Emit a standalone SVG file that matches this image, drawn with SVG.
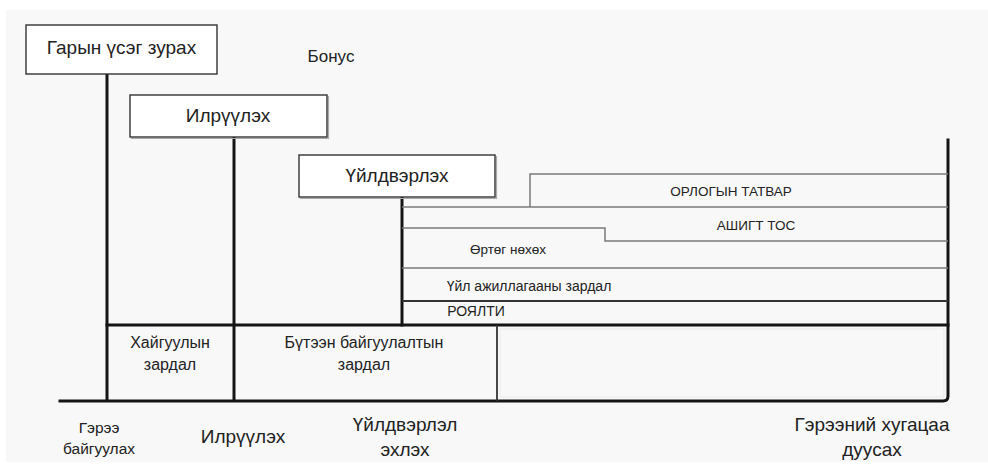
<svg xmlns="http://www.w3.org/2000/svg" width="988" height="464" viewBox="0 0 988 464">
  <style>
    .t { font-family: "Liberation Sans", Arial, sans-serif; fill: #222; text-anchor: middle; }
    .box { fill: #ffffff; stroke: #333; stroke-width: 1.4; }
    .shadow { fill: none; stroke: #aaa; stroke-width: 1.2; }
    .heavy { stroke: #151515; stroke-width: 3; fill: none; stroke-linecap: square; }
    .mid { stroke: #333; stroke-width: 1.8; fill: none; }
    .thin { stroke: #7a7a7a; stroke-width: 1.5; fill: none; }
    .faint { stroke: #ebebeb; stroke-width: 1; fill: none; }
  </style>

  <!-- canvas -->
  <rect x="0" y="0" width="988" height="464" fill="#ffffff"/>
  <rect x="6" y="10" width="982" height="452" fill="#f8f8f8"/>

  <!-- connectors: timeline axes and cost bands -->
  <g id="connectors">
    <!-- phase drop lines -->
    <line class="heavy" x1="107" y1="74" x2="107" y2="400"/>
    <line class="heavy" x1="234" y1="137" x2="234" y2="400"/>
    <line class="heavy" x1="402" y1="197" x2="402" y2="325"/>
    <path class="heavy" d="M948,140 V396 Q948,401 943,401 H60"/>
    <!-- cost base line -->
    <line class="heavy" x1="107" y1="325" x2="948" y2="325"/>
    <line class="mid" x1="497" y1="325" x2="497" y2="401"/>
    <rect class="faint" x="500" y="329" width="444" height="68"/>

    <!-- production bands -->
    <path class="thin" d="M530,207 V174 H948"/>
    <line class="thin" x1="402" y1="207" x2="948" y2="207"/>
    <path class="thin" d="M402,228 H605 V241 H948"/>
    <line class="thin" x1="402" y1="268" x2="948" y2="268"/>
    <line class="mid" x1="402" y1="301" x2="948" y2="301"/>
  </g>

  <!-- phase boxes -->
  <g id="sign">
    <rect class="box" x="26" y="25" width="191" height="49"/>
    <text class="t" x="121.5" y="54" font-size="19">Гарын үсэг зурах</text>
  </g>
  <g id="bonus">
    <text class="t" x="331" y="62" font-size="17">Бонус</text>
  </g>
  <g id="discover">
    <polyline class="shadow" points="131,138.5 328.5,138.5 328.5,96"/>
    <rect class="box" x="130" y="95" width="197" height="42"/>
    <text class="t" x="228" y="122" font-size="19">Илрүүлэх</text>
  </g>
  <g id="produce">
    <polyline class="shadow" points="300,198.5 496.5,198.5 496.5,156"/>
    <rect class="box" x="299" y="155" width="196" height="42"/>
    <text class="t" x="397" y="182" font-size="19">Үйлдвэрлэх</text>
  </g>

  <!-- production band labels -->
  <g id="income-tax">
    <text class="t" x="731" y="196" font-size="13.5">ОРЛОГЫН ТАТВАР</text>
  </g>
  <g id="profit-oil">
    <text class="t" x="756" y="230" font-size="13.5">АШИГТ ТОС</text>
  </g>
  <g id="cost-recovery">
    <text class="t" x="508" y="254" font-size="13.5">Өртөг нөхөх</text>
  </g>
  <g id="opex">
    <text class="t" x="529" y="291" font-size="14">Үйл ажиллагааны зардал</text>
  </g>
  <g id="royalty">
    <text class="t" x="476" y="316" font-size="14">РОЯЛТИ</text>
  </g>

  <!-- cost blocks -->
  <g id="exploration-cost">
    <text class="t" x="170" y="348" font-size="16">Хайгуулын</text>
    <text class="t" x="170" y="370" font-size="16">зардал</text>
  </g>
  <g id="development-cost">
    <text class="t" x="364" y="348" font-size="16">Бүтээн байгуулалтын</text>
    <text class="t" x="364" y="370" font-size="16">зардал</text>
  </g>

  <!-- milestones -->
  <g id="contract">
    <text class="t" x="99" y="433" font-size="15.5">Гэрээ</text>
    <text class="t" x="99" y="454" font-size="15.5">байгуулах</text>
  </g>
  <g id="discovery">
    <text class="t" x="243" y="443" font-size="19">Илрүүлэх</text>
  </g>
  <g id="production-start">
    <text class="t" x="405" y="431" font-size="19">Үйлдвэрлэл</text>
    <text class="t" x="405" y="456" font-size="19">эхлэх</text>
  </g>
  <g id="contract-end">
    <text class="t" x="872" y="431" font-size="19">Гэрээний хугацаа</text>
    <text class="t" x="872" y="456" font-size="19">дуусах</text>
  </g>
</svg>
